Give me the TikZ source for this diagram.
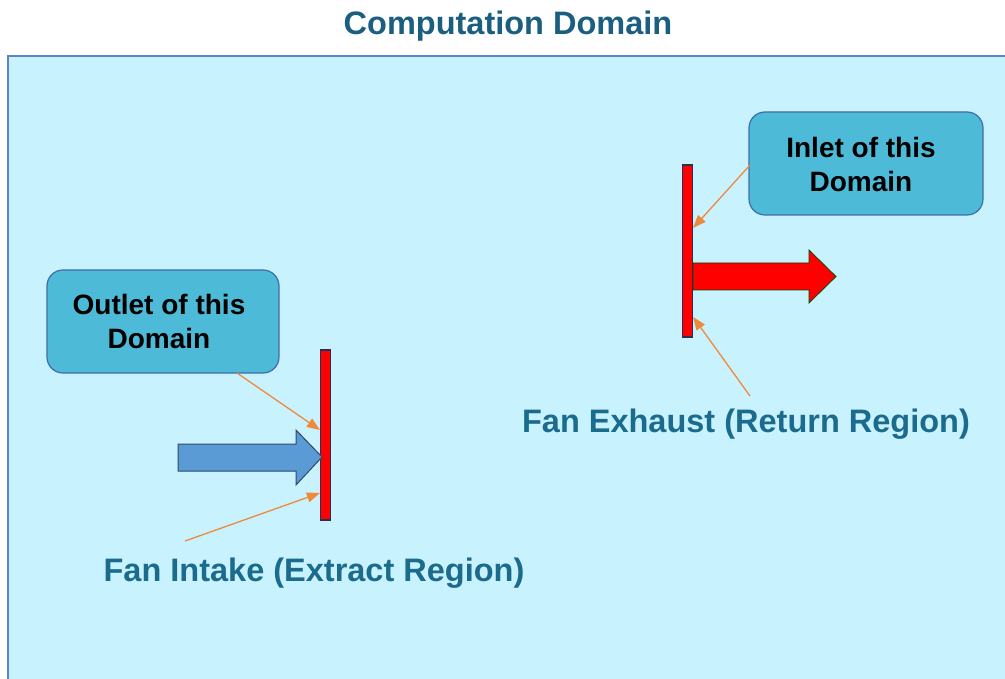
\documentclass[tikz,border=0pt]{standalone}
\usepackage{fontspec}
\setmainfont{Liberation Sans}
\usetikzlibrary{arrows.meta}
\definecolor{domfill}{HTML}{C9F2FF}
\definecolor{domline}{HTML}{5B83D2}
\definecolor{boxfill}{HTML}{4DBBD8}
\definecolor{boxline}{HTML}{3F6EA8}
\definecolor{titlecol}{HTML}{1A5E80}
\definecolor{labcol}{HTML}{1B6B8C}
\definecolor{orangec}{HTML}{EE8A3C}
\definecolor{barline}{HTML}{2A2F5A}
\definecolor{bluearrow}{HTML}{5B9BD5}
\definecolor{bluearrowline}{HTML}{2F4A6A}
\tikzset{
  callout/.style={draw=boxline, line width=1.2, fill=boxfill, rounded corners=16},
  callouttext/.style={align=center, font=\fontsize{28}{34}\selectfont\bfseries, text=black},
  fanbar/.style={draw=barline, line width=1.2, fill=red, inner sep=0, minimum width=10},
  pointer/.style={orangec, line width=1.3, -{Triangle[length=13,width=10]}},
  fanlabel/.style={text=labcol, font=\fontsize{32.5}{36}\selectfont\bfseries},
}
\begin{document}
\begin{tikzpicture}[x=1pt,y=-1pt]
\useasboundingbox (0,0) rectangle (1005,679);
\clip (0,0) rectangle (1005,679);
\fill[white] (0,0) rectangle (1005,679);
\node[text=titlecol, font=\fontsize{32.5}{36}\selectfont\bfseries] (title) at (508,26) {Computation Domain};
\draw[domline, line width=1.5, fill=domfill] (8,56) rectangle (1015,700);

% left side
\node[callout, minimum width=232, minimum height=103] (outlet) at (163,321.5) {};
\node[callouttext] (outlettext) at (159,321) {Outlet of this\\Domain};
\node[fanbar, minimum height=170] (barL) at (325.5,435) {};
\draw[bluearrowline, line width=1, fill=bluearrow]
  (178,444) -- (296,444) -- (296,430) -- (322,457) -- (296,485) -- (296,471) -- (178,471) -- cycle;
\coordinate (pL1) at (237,373);
\coordinate (pL2) at (185,541);
\draw[pointer] (pL1) -- (barL.west |- 0,430);
\draw[pointer] (pL2) -- (barL.west |- 0,493);
\node[fanlabel] (intake) at (314,573) {Fan Intake (Extract Region)};

% right side
\node[callout, minimum width=234, minimum height=103] (inlet) at (866,163.5) {};
\node[callouttext] (inlettext) at (861,164) {Inlet of this\\Domain};
\node[fanbar, minimum height=172] (barR) at (687.5,251) {};
\draw[black!70!green, line width=0.8, fill=red]
  (693,263) -- (809,263) -- (809,250) -- (836,276.5) -- (809,303) -- (809,290) -- (693,290) -- cycle;
\coordinate (pR1) at (750,165);
\coordinate (pR2) at (750,396);
\draw[pointer] (pR1) -- (barR.east |- 0,228);
\draw[pointer] (pR2) -- (barR.east |- 0,317);
\node[fanlabel] (exhaust) at (746,424) {Fan Exhaust (Return Region)};
\end{tikzpicture}
\end{document}
